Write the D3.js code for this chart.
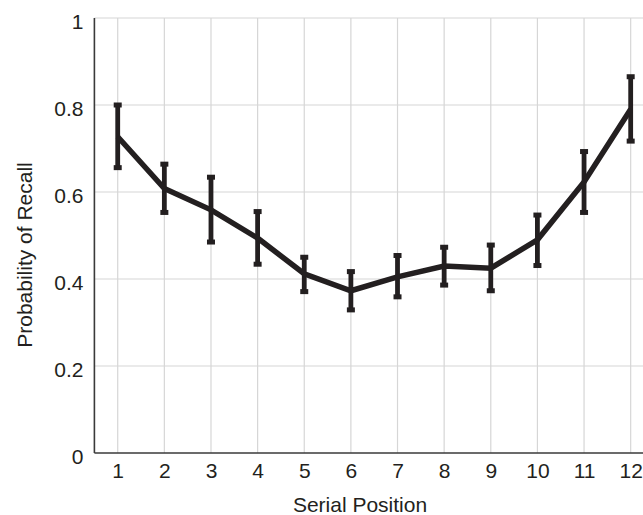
<!DOCTYPE html>
<html>
<head>
<meta charset="utf-8">
<script src="https://cdnjs.cloudflare.com/ajax/libs/d3/7.8.5/d3.min.js"></script>
<style>
body { margin: 0; background: #fff; overflow: hidden; }
text { font-family: "Liberation Sans", Arial, sans-serif; fill: #231f20; }
</style>
</head>
<body>
<div id="graph"></div>
<script>
// serial position curve
const positions = [1, 2, 3, 4, 5, 6, 7, 8, 9, 10, 11, 12];
const recall = [0.727, 0.608, 0.559, 0.494, 0.412, 0.373, 0.405, 0.430, 0.425, 0.490, 0.623, 0.790];
const errLow = [0.656, 0.553, 0.485, 0.434, 0.371, 0.329, 0.359, 0.386, 0.373, 0.431, 0.553, 0.717];
const errHigh = [0.800, 0.664, 0.634, 0.555, 0.450, 0.417, 0.454, 0.473, 0.478, 0.547, 0.693, 0.865];
const yTicks = [0, 0.2, 0.4, 0.6, 0.8, 1];

const w = 643, h = 515;
const ink = "#231f20";

const svg = d3.select("#graph").append("svg")
  .attr("width", w)
  .attr("height", h);

const x = d3.scaleLinear().domain([0.5, 12.5]).range([94.4, 654]);
const y = d3.scaleLinear().domain([0, 1]).range([453, 18]);

// grid
svg.append("g").selectAll("line.v")
  .data(positions).enter().append("line")
  .attr("x1", d => x(d)).attr("x2", d => x(d))
  .attr("y1", y(1)).attr("y2", y(0))
  .attr("stroke", "#d6d6d6").attr("stroke-width", 1.2);

svg.append("g").selectAll("line.h")
  .data(yTicks.filter(d => d > 0)).enter().append("line")
  .attr("x1", x(0.5)).attr("x2", w)
  .attr("y1", d => y(d)).attr("y2", d => y(d))
  .attr("stroke", "#d6d6d6").attr("stroke-width", 1.2);

// axes
const xAxis = d3.axisBottom(x).tickValues(positions).tickSize(0).tickPadding(10).tickFormat(d3.format("d"));
const yAxis = d3.axisLeft(y).tickValues(yTicks).tickSize(0).tickPadding(11).tickFormat(d => d === 0 || d === 1 ? d : d3.format(".1f")(d));

const gx = svg.append("g").attr("transform", "translate(0," + y(0) + ")").call(xAxis);
const gy = svg.append("g").attr("transform", "translate(" + x(0.5) + ",0)").call(yAxis);
[gx, gy].forEach(g => {
  g.attr("font-size", null).attr("font-family", null);
  g.select(".domain").attr("stroke", "#3a3a3a").attr("stroke-width", 1.6);
  g.selectAll("text").style("font-size", "21px").attr("fill", ink);
});
gy.selectAll("text").attr("dy", "0.48em");
gx.select(".domain").attr("d", "M" + x(0.5) + ",0H" + w);
gy.select(".domain").attr("d", "M0," + y(1) + "V" + y(0));

// labels
svg.append("text")
  .attr("x", 360).attr("y", 512)
  .attr("text-anchor", "middle")
  .style("font-size", "21px")
  .text("Serial Position");

svg.append("text")
  .attr("transform", "translate(32,255) rotate(-90)")
  .attr("text-anchor", "middle")
  .style("font-size", "21px")
  .text("Probability of Recall");

// error bars
const bars = svg.append("g");
bars.selectAll("line.err")
  .data(positions).enter().append("line")
  .attr("x1", d => x(d)).attr("x2", d => x(d))
  .attr("y1", (d, i) => y(errLow[i])).attr("y2", (d, i) => y(errHigh[i]))
  .attr("stroke", ink).attr("stroke-width", 4.8);

const caps = positions.flatMap((d, i) => [[d, errLow[i]], [d, errHigh[i]]]);
bars.selectAll("rect.cap")
  .data(caps).enter().append("rect")
  .attr("x", d => x(d[0]) - 4)
  .attr("y", d => y(d[1]) - 2.5)
  .attr("width", 8).attr("height", 5)
  .attr("fill", ink);

// mean line
const line = d3.line().x((d, i) => x(positions[i])).y(d => y(d));
svg.append("path")
  .datum(recall)
  .attr("d", line)
  .attr("fill", "none")
  .attr("stroke", ink)
  .attr("stroke-width", 5.5)
  .attr("stroke-linejoin", "miter");
</script>
</body>
</html>
